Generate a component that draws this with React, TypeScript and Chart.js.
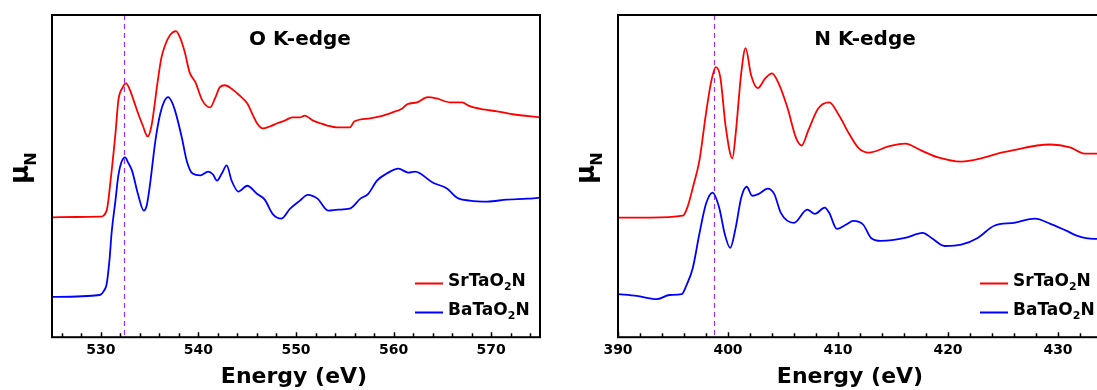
import React, { useEffect, useRef } from "react";
import { Chart, registerables } from "chart.js";

Chart.register(...registerables);

// ---------- Data (normalised absorption, arbitrary units) ----------
const seriesLabels = ["SrTaO2N", "BaTaO2N"];

// O K-edge
const oSrEnergy = [525.0, 527.5, 529.9, 530.6, 531.0, 531.5, 531.8, 532.2, 532.6, 533.0, 533.4, 533.9, 534.3, 534.8, 535.2, 535.8, 536.2, 536.6, 537.1, 537.7, 538.1, 538.6, 539.1, 539.7, 540.4, 541.2, 541.7, 542.2, 542.7, 543.5, 544.3, 545.0, 545.6, 546.0, 546.6, 547.3, 548.1, 548.9, 549.6, 550.4, 550.9, 551.7, 552.5, 553.2, 554.2, 555.5, 556.0, 557.6, 558.6, 559.9, 560.9, 561.4, 562.4, 563.5, 564.4, 565.8, 567.0, 567.8, 569.2, 570.6, 572.2, 575.0];
const oSrMu = [37.2, 37.3, 37.4, 39.3, 48.6, 63.2, 73.5, 77.3, 78.8, 76.6, 73.2, 68.8, 65.7, 62.3, 65.7, 78.8, 86.6, 90.7, 93.8, 95.0, 93.1, 88.5, 82.2, 79.1, 73.5, 71.3, 74.1, 77.6, 78.2, 76.9, 74.8, 72.6, 68.8, 66.4, 64.8, 65.4, 66.4, 67.3, 68.2, 68.2, 68.8, 67.3, 66.4, 65.7, 65.1, 65.1, 67.0, 67.9, 68.5, 69.8, 71.0, 72.3, 72.9, 74.5, 74.1, 72.9, 72.9, 71.7, 70.7, 70.1, 69.2, 68.2];
const oBaEnergy = [525.0, 529.9, 530.3, 530.6, 530.9, 531.1, 531.5, 531.8, 532.1, 532.5, 532.8, 533.2, 533.8, 534.4, 534.7, 535.0, 535.6, 536.1, 536.5, 536.9, 537.3, 537.6, 538.3, 538.8, 539.4, 540.2, 541.0, 541.5, 541.9, 542.4, 542.9, 543.4, 544.1, 545.0, 546.0, 546.8, 547.6, 548.5, 549.4, 550.4, 551.2, 552.2, 553.3, 554.3, 555.5, 556.6, 557.4, 558.3, 559.3, 560.5, 561.5, 562.2, 564.0, 565.5, 566.5, 567.8, 569.6, 571.6, 573.7, 575.0];
const oBaMu = [12.5, 13.1, 14.3, 16.5, 24.3, 32.1, 42.4, 50.2, 54.2, 55.8, 54.2, 51.7, 44.5, 39.3, 40.8, 46.4, 61.1, 69.5, 73.2, 74.5, 72.9, 70.4, 62.0, 54.8, 50.8, 50.2, 51.4, 50.5, 48.6, 50.8, 53.3, 48.6, 45.2, 47.0, 44.5, 42.7, 38.3, 36.8, 39.9, 42.4, 44.2, 43.0, 39.3, 39.6, 39.9, 43.0, 44.5, 48.6, 50.8, 52.3, 51.1, 51.4, 48.0, 46.1, 43.3, 42.4, 42.1, 42.7, 43.0, 43.3];
const oTicks = [530, 540, 550, 560, 570];
const oRange = [525, 575];
const oEdge = 532.4;

// N K-edge
const nSrEnergy = [390.0, 392.9, 395.9, 396.3, 396.8, 397.4, 398.0, 398.5, 398.9, 399.3, 399.8, 400.4, 400.7, 401.2, 401.6, 402.1, 402.7, 403.4, 404.0, 404.6, 405.4, 406.2, 406.7, 407.3, 408.2, 409.2, 410.1, 411.0, 411.9, 412.8, 414.6, 416.1, 417.6, 419.1, 421.2, 423.0, 424.5, 426.3, 428.1, 429.3, 431.1, 432.4, 433.3, 435.0];
const nSrMu = [37.1, 37.1, 37.7, 40.2, 46.4, 54.8, 69.5, 79.8, 83.8, 80.7, 65.1, 55.5, 63.2, 81.9, 89.7, 81.3, 77.3, 80.4, 81.9, 78.8, 71.3, 61.7, 59.5, 64.2, 71.0, 72.9, 68.8, 63.2, 58.6, 57.3, 59.2, 60.1, 57.9, 55.8, 54.5, 55.5, 57.0, 58.3, 59.5, 59.8, 58.9, 57.0, 57.0, 57.0];
const nBaEnergy = [390.0, 391.7, 393.5, 394.7, 395.8, 396.2, 396.8, 397.4, 398.0, 398.6, 399.2, 399.7, 400.2, 400.7, 401.2, 401.7, 402.2, 402.8, 403.6, 404.2, 404.8, 406.0, 407.2, 407.9, 408.8, 409.2, 409.9, 410.7, 411.4, 412.3, 413.0, 413.9, 416.1, 417.7, 418.5, 419.7, 421.2, 422.7, 424.2, 426.0, 427.9, 429.3, 430.8, 431.7, 433.3, 435.0];
const nBaMu = [13.4, 12.8, 11.8, 13.1, 13.4, 15.9, 21.5, 32.1, 41.4, 44.9, 40.2, 32.1, 27.7, 34.0, 43.3, 46.7, 43.9, 44.5, 46.1, 44.5, 38.6, 35.5, 39.6, 38.3, 40.2, 38.6, 33.6, 34.9, 36.1, 34.9, 30.8, 29.9, 30.8, 32.4, 30.8, 28.3, 28.7, 30.8, 34.6, 35.5, 36.8, 35.2, 33.0, 31.5, 30.5, 30.5];
const nTicks = [390, 400, 410, 420, 430];
const nRange = [390, 435];
const nEdge = 398.7;

// ---------- Styling ----------
const FONT = "'DejaVu Sans', 'Liberation Sans', sans-serif";
const COLORS = ["#ff0000", "#0000ff"];
const EDGE_COLOR = "#9b30ff";

const pts = (xs: number[], ys: number[]) => xs.map((x, i) => ({ x, y: ys[i] }));

function drawSubText(ctx: CanvasRenderingContext2D, text: string, x: number, y: number, size: number) {
  const parts = text.split(/(\d+)/).filter((p) => p.length);
  let cx = x;
  for (const p of parts) {
    const sub = /^\d+$/.test(p);
    ctx.font = `bold ${sub ? Math.round(size * 0.62) : size}px ${FONT}`;
    ctx.fillText(p, cx, sub ? y + 4 : y);
    cx += ctx.measureText(p).width;
  }
}

const decorPlugin = {
  id: "xasDecor",
  beforeDatasetsDraw(chart: any, _a: any, o: any) {
    const { ctx, chartArea: ca, scales } = chart;
    const px = Math.round(scales.x.getPixelForValue(o.edge)) + 0.5;
    ctx.save();
    ctx.strokeStyle = EDGE_COLOR;
    ctx.lineWidth = 1.2;
    ctx.setLineDash([5, 4]);
    ctx.beginPath();
    ctx.moveTo(px, ca.top);
    ctx.lineTo(px, ca.bottom);
    ctx.stroke();
    ctx.restore();
  },
  afterDatasetsDraw(chart: any, _a: any, o: any) {
    const { ctx, chartArea: ca, scales } = chart;
    const x = scales.x;
    ctx.save();
    // frame
    ctx.strokeStyle = "#000";
    ctx.lineWidth = 2;
    ctx.strokeRect(ca.left, ca.top, ca.right - ca.left, ca.bottom - ca.top);
    // inward ticks
    ctx.lineWidth = 1.5;
    ctx.beginPath();
    for (let v = Math.ceil(x.min / 2) * 2; v <= x.max; v += 2) {
      const p = Math.round(x.getPixelForValue(v)) + 0.5;
      const len = v % 10 === 0 ? 5 : 4;
      ctx.moveTo(p, ca.bottom);
      ctx.lineTo(p, ca.bottom - len);
    }
    ctx.stroke();

    ctx.fillStyle = "#000";
    ctx.textBaseline = "alphabetic";
    // panel title
    ctx.textAlign = "center";
    ctx.font = `bold 20px ${FONT}`;
    ctx.fillText(o.title, o.titleX, 45);
    // axis title
    ctx.font = `bold 22px ${FONT}`;
    ctx.fillText("Energy (eV)", o.axisTitleX, 383);

    // y label  μ_N
    ctx.textAlign = "left";
    ctx.save();
    ctx.translate(ca.left - 24, 184);
    ctx.rotate(-Math.PI / 2);
    ctx.font = `bold 26px ${FONT}`;
    ctx.fillText("μ", 0, 0);
    const w = ctx.measureText("μ").width;
    ctx.font = `bold 16px ${FONT}`;
    ctx.fillText("N", w - 1, 8);
    ctx.restore();

    // legend
    chart.data.datasets.forEach((ds: any, i: number) => {
      const ly = 283 + i * 29;
      ctx.strokeStyle = ds.borderColor;
      ctx.lineWidth = 2;
      ctx.beginPath();
      ctx.moveTo(o.legendX, ly + 0.5);
      ctx.lineTo(o.legendX + 28, ly + 0.5);
      ctx.stroke();
      ctx.fillStyle = "#000";
      drawSubText(ctx, ds.label, o.legendX + 33, ly + 3, 17);
    });
    ctx.restore();
  },
};

function makeConfig(p: any) {
  return {
    type: "line",
    data: {
      datasets: p.series.map((s: any, i: number) => ({
        label: seriesLabels[i],
        data: pts(s[0], s[1]),
        borderColor: COLORS[i],
        backgroundColor: COLORS[i],
        borderWidth: 1.8,
        pointRadius: 0,
        cubicInterpolationMode: "monotone",
        fill: false,
      })),
    },
    plugins: [decorPlugin],
    options: {
      animation: false,
      responsive: false,
      devicePixelRatio: 1,
      layout: { padding: p.padding },
      scales: {
        x: {
          type: "linear",
          min: p.range[0],
          max: p.range[1],
          grid: { display: false, drawTicks: false },
          border: { display: false },
          ticks: {
            color: "#000",
            padding: 5,
            maxRotation: 0,
            autoSkip: false,
            font: { family: FONT, weight: "bold", size: 14 },
          },
          afterBuildTicks: (scale: any) => {
            scale.ticks = p.ticks.map((v: number) => ({ value: v }));
          },
        },
        y: { display: false, min: 0, max: 100 },
      },
      plugins: {
        legend: { display: false },
        tooltip: { enabled: false },
        xasDecor: {
          title: p.title,
          titleX: p.titleX,
          axisTitleX: p.axisTitleX,
          edge: p.edge,
          legendX: p.legendX,
        },
      },
    },
  };
}

function Panel({ params, left, width }: { params: any; left: number; width: number }) {
  const ref = useRef<HTMLCanvasElement>(null);
  useEffect(() => {
    const chart = new Chart(ref.current as HTMLCanvasElement, makeConfig(params) as any);
    return () => chart.destroy();
  }, []);
  return (
    <canvas
      ref={ref}
      width={width}
      height={390}
      style={{ position: "absolute", left, top: 0, width, height: 390 }}
    />
  );
}

const oParams = {
  title: "O K-edge",
  series: [
    [oSrEnergy, oSrMu],
    [oBaEnergy, oBaMu],
  ],
  range: oRange,
  ticks: oTicks,
  edge: oEdge,
  padding: { left: 52, right: 20, top: 15, bottom: 26 },
  titleX: 300,
  axisTitleX: 294,
  legendX: 415,
};

const nParams = {
  title: "N K-edge",
  series: [
    [nSrEnergy, nSrMu],
    [nBaEnergy, nBaMu],
  ],
  range: nRange,
  ticks: nTicks,
  edge: nEdge,
  padding: { left: 58, right: 47, top: 15, bottom: 26 },
  titleX: 305,
  axisTitleX: 290,
  legendX: 420,
};

export default function App() {
  return (
    <div
      style={{
        position: "fixed",
        left: 0,
        top: 0,
        width: 1097,
        height: 390,
        overflow: "hidden",
        background: "#fff",
      }}
    >
      <Panel params={oParams} left={0} width={560} />
      <Panel params={nParams} left={560} width={600} />
    </div>
  );
}
